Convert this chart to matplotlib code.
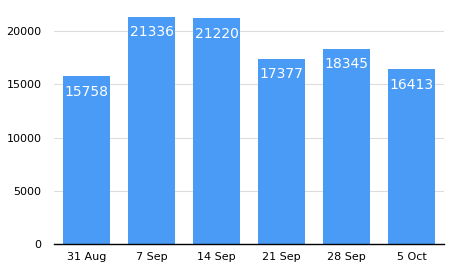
import matplotlib.pyplot as plt

# weekly totals
weeks = ["31 Aug", "7 Sep", "14 Sep", "21 Sep", "28 Sep", "5 Oct"]
totals = [15758, 21336, 21220, 17377, 18345, 16413]
yticks = [0, 5000, 10000, 15000, 20000]

fig = plt.figure(figsize=(4.5, 2.74), dpi=100)
ax = fig.add_axes([0.12, 0.1095, 0.8667, 0.854])

bars = ax.bar(range(len(weeks)), totals, width=0.71, color="#4A9BF5", zorder=2)
for i, v in enumerate(totals):
    ax.annotate(str(v), (i, v), xytext=(0, -11), textcoords="offset points",
                ha="center", va="center", color="white", fontsize=10)

ax.set_xlim(-0.5, len(weeks) - 0.5)
ax.set_ylim(0, 22000)
ax.set_yticks(yticks)
ax.set_xticks(range(len(weeks)))
ax.set_xticklabels(weeks)
ax.tick_params(axis="both", length=0, labelsize=8)
ax.tick_params(axis="y", pad=9)
ax.tick_params(axis="x", pad=6)
ax.grid(axis="y", color="#DDDDDD", linewidth=0.8, zorder=0)
for s in ["top", "right", "left"]:
    ax.spines[s].set_visible(False)
ax.spines["bottom"].set_color("black")
ax.spines["bottom"].set_linewidth(1.0)
ax.spines["bottom"].set_zorder(3)

fig.savefig("out.png", dpi=100)
